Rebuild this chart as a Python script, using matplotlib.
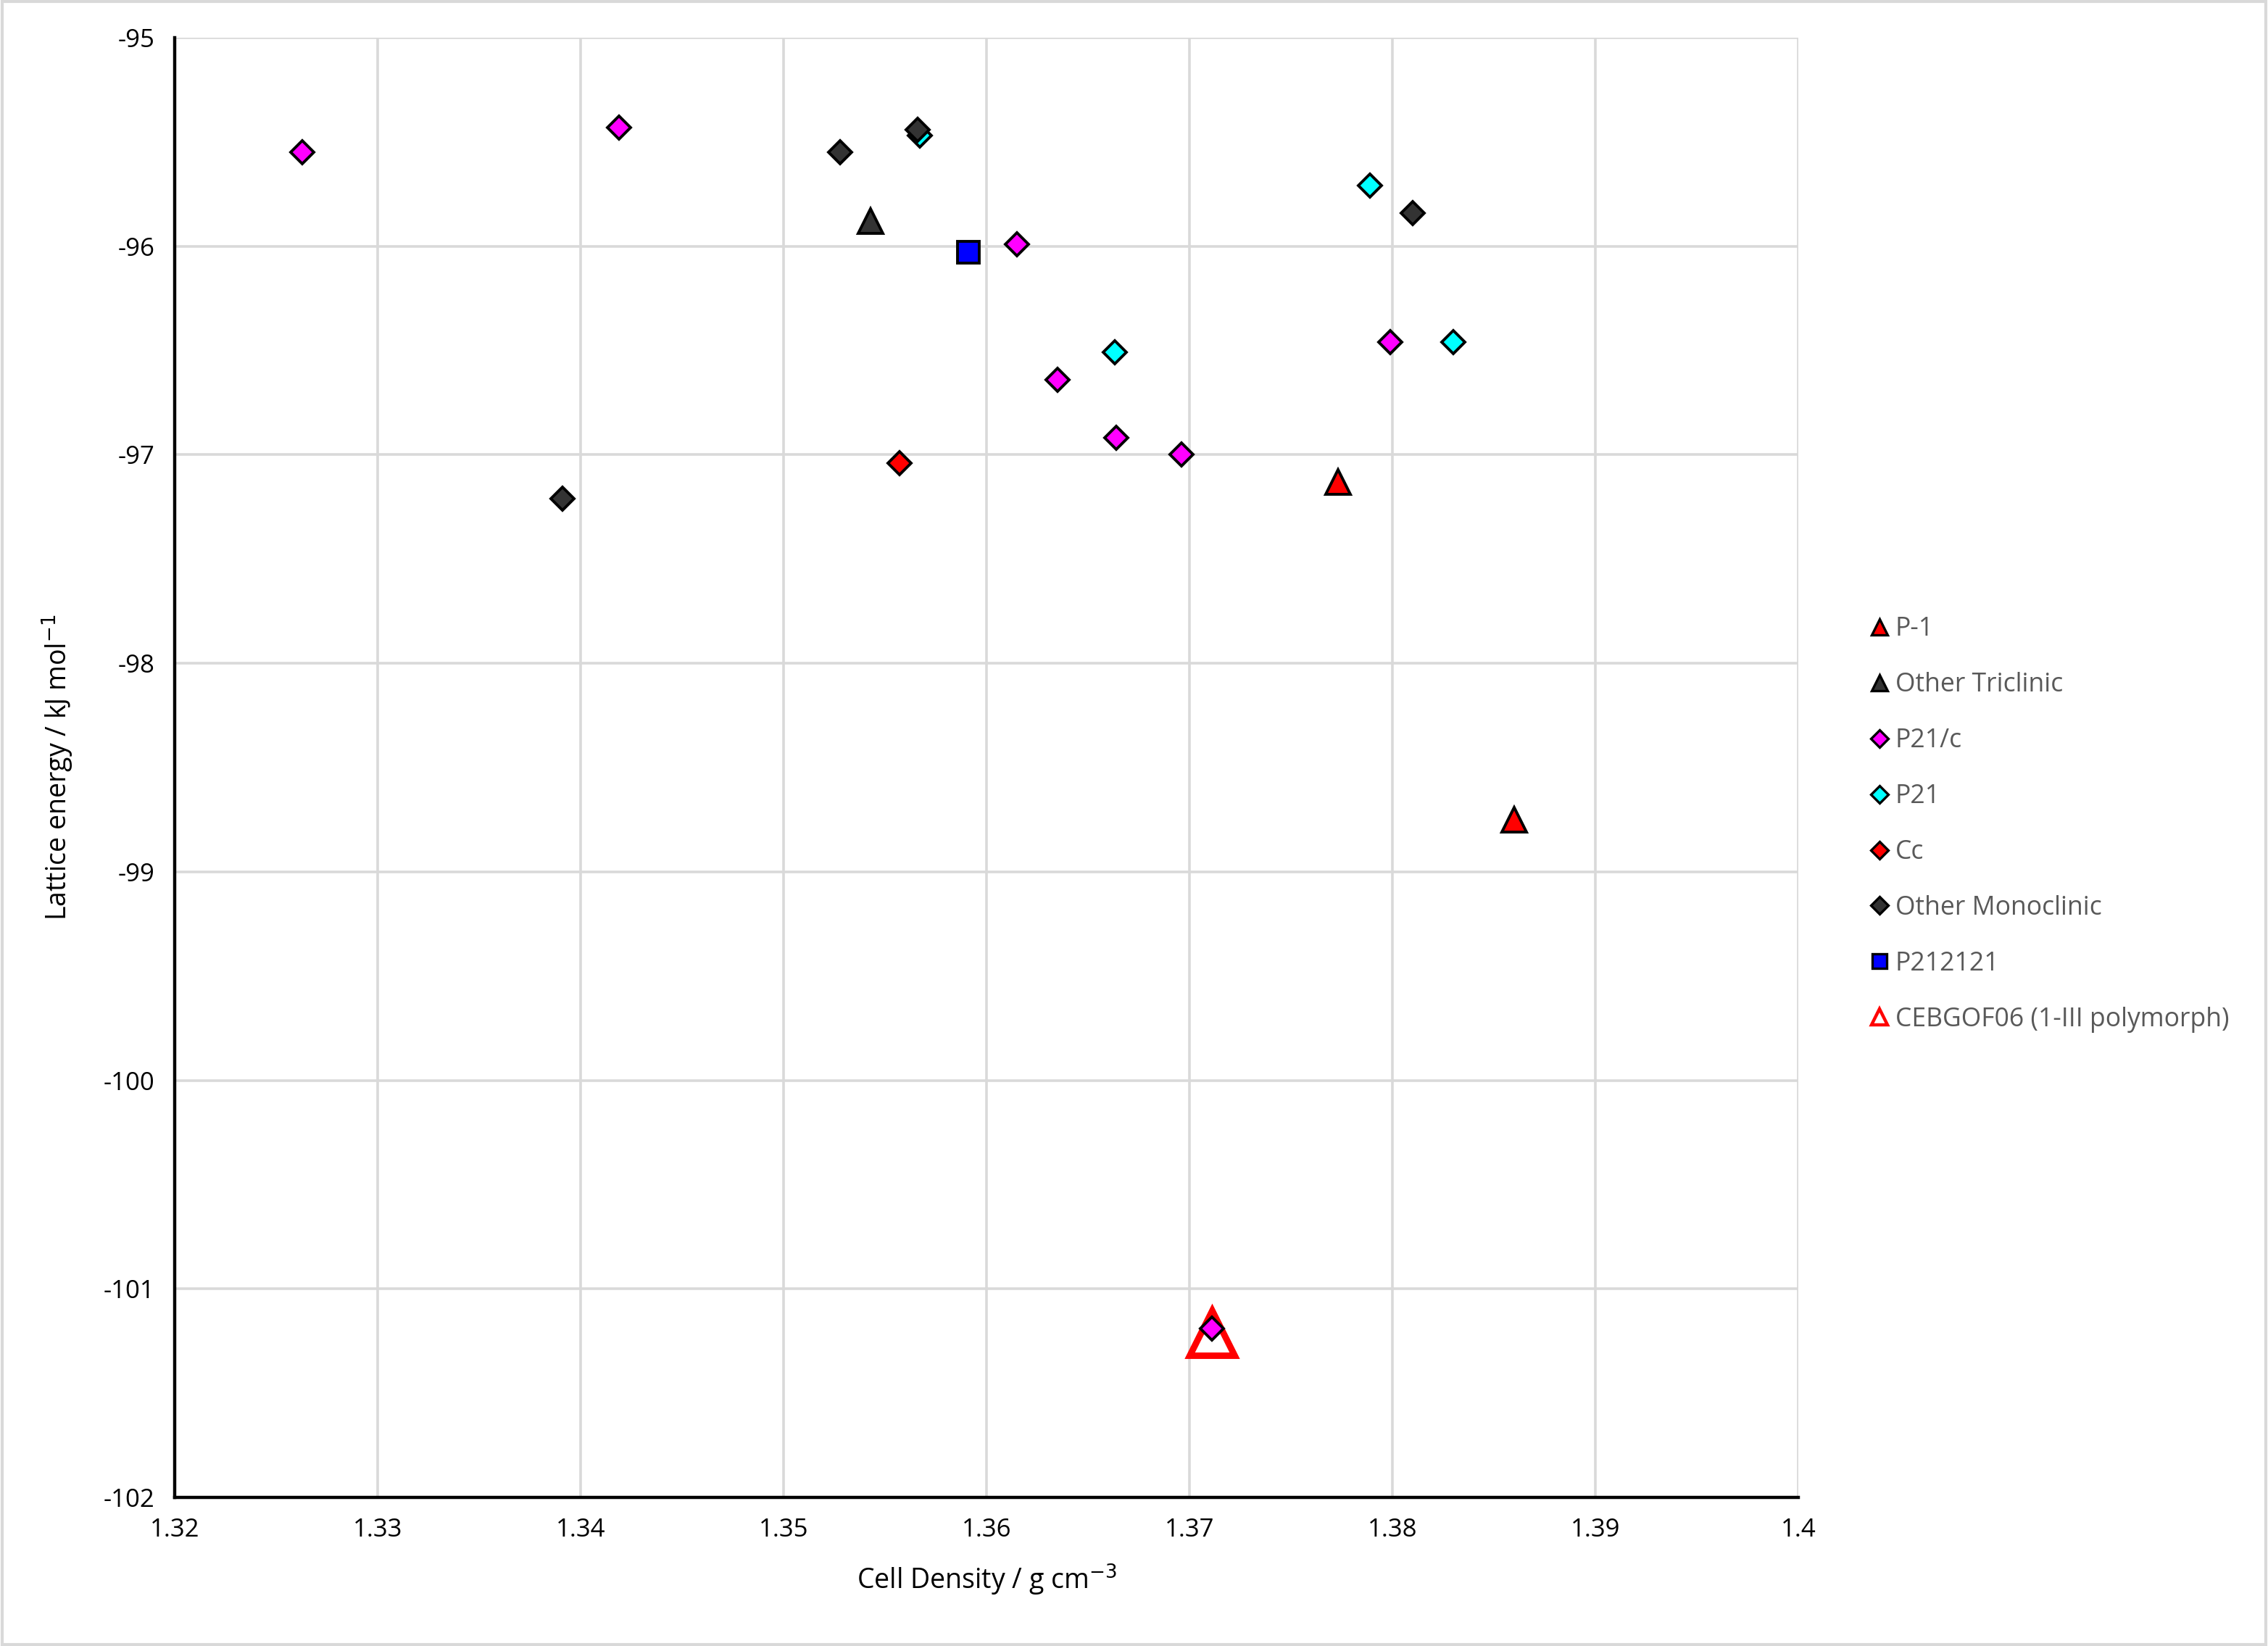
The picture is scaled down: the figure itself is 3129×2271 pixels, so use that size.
import matplotlib
matplotlib.use("Agg")
import matplotlib.pyplot as plt
from matplotlib.patches import Rectangle
from matplotlib.lines import Line2D

plt.rcParams['font.family'] = ['Open Sans', 'DejaVu Sans']
plt.rcParams['axes.unicode_minus'] = False

# data (density g/cm3, lattice energy kJ/mol)
p1_x = [1.3773, 1.3860]
p1_y = [-97.13, -98.75]

tric_x = [1.3543]
tric_y = [-95.88]

p21c_x = [1.3263, 1.3419, 1.3615, 1.3635, 1.3664, 1.3696, 1.3799, 1.3711]
p21c_y = [-95.55, -95.43, -95.99, -96.64, -96.92, -97.00, -96.46, -101.19]

p21_x = [1.3567, 1.3789, 1.3663, 1.3830]
p21_y = [-95.47, -95.71, -96.51, -96.46]

cc_x = [1.3557]
cc_y = [-97.04]

mono_x = [1.3528, 1.3566, 1.3810, 1.3391]
mono_y = [-95.55, -95.44, -95.84, -97.21]

p212121_x = [1.3591]
p212121_y = [-96.03]

ceb_x = [1.3711]
ceb_y = [-101.21]

fig = plt.figure(figsize=(15.645, 11.355), dpi=200)
ax = fig.add_axes([0.077, 0.0903, 0.716, 0.8868])

ax.plot(ceb_x, ceb_y, ls='none', marker='^', ms=22, mfc='white', mec='#ff0000', mew=3.2, zorder=3)

common = dict(ls='none', mec='black', mew=1.4)
ax.plot(p1_x, p1_y, marker='^', ms=12, mfc='#ff0000', zorder=4, **common)
ax.plot(tric_x, tric_y, marker='^', ms=12, mfc='#333333', zorder=4, **common)
ax.plot(p21c_x, p21c_y, marker='D', ms=8, mfc='#ff00ff', zorder=5, **common)
ax.plot(p21_x, p21_y, marker='D', ms=8, mfc='#00ffff', zorder=4, **common)
ax.plot(cc_x, cc_y, marker='D', ms=8, mfc='#ff0000', zorder=4, **common)
ax.plot(mono_x, mono_y, marker='D', ms=8, mfc='#333333', zorder=5, **common)
ax.plot(p212121_x, p212121_y, marker='s', ms=11, mfc='#0000ff', zorder=4, **common)

ax.set_xlim(1.32, 1.4)
ax.set_ylim(-102, -95)
ax.set_xticks([1.32, 1.33, 1.34, 1.35, 1.36, 1.37, 1.38, 1.39, 1.4])
ax.set_xticklabels(['1.32', '1.33', '1.34', '1.35', '1.36', '1.37', '1.38', '1.39', '1.4'])
ax.set_yticks(range(-102, -94))
ax.grid(True, color='#d9d9d9', lw=1.3)
ax.set_axisbelow(True)
for s in ['top', 'right']:
    ax.spines[s].set_visible(False)
for s in ['left', 'bottom']:
    ax.spines[s].set_linewidth(1.6)
    ax.spines[s].set_color('black')
ax.tick_params(length=0, labelsize=12.5, pad=10)

ax.set_xlabel('Cell Density / g cm$^{-3}$', fontsize=13.5, labelpad=10)
ax.set_ylabel('Lattice energy / kJ mol$^{-1}$', fontsize=13.5, labelpad=14)

# legend with uniform small markers
leg_labels = ['P-1', 'Other Triclinic', 'P21/c', 'P21', 'Cc', 'Other Monoclinic', 'P212121',
              'CEBGOF06 (1-III polymorph)']
leg_markers = ['^', '^', 'D', 'D', 'D', 'D', 's', '^']
leg_colors = ['#ff0000', '#333333', '#ff00ff', '#00ffff', '#ff0000', '#333333', '#0000ff', 'white']
proxies = []
for m, c in zip(leg_markers, leg_colors):
    if c == 'white':
        proxies.append(Line2D([], [], ls='none', marker=m, ms=8, mfc='white', mec='#ff0000', mew=1.6))
    else:
        proxies.append(Line2D([], [], ls='none', marker=m, ms=8 if m == '^' else (6 if m == 'D' else 7.5),
                              mfc=c, mec='black', mew=1.2))
leg = ax.legend(proxies, leg_labels, loc='center left', bbox_to_anchor=(1.031, 0.461),
                frameon=False, fontsize=12.8, handlelength=0.6, handletextpad=0.3,
                labelspacing=1.15)
for t in leg.get_texts():
    t.set_color('#595959')

fig.patches.append(Rectangle((0.001, 0.001), 0.998, 0.998, transform=fig.transFigure,
                             fill=False, ec='#d9d9d9', lw=1.5))

fig.savefig('out.png', dpi=200)
